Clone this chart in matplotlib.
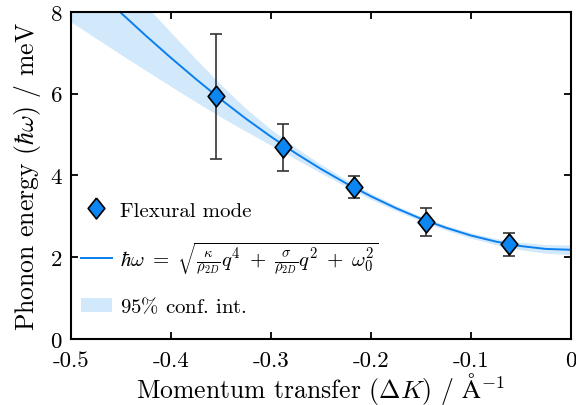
import matplotlib

matplotlib.use("Agg")
import matplotlib.pyplot as plt
from matplotlib.lines import Line2D
from matplotlib.patches import Patch

plt.rcParams["font.family"] = ["cmr10", "DejaVu Serif"]
plt.rcParams["mathtext.fontset"] = "cm"
plt.rcParams["axes.formatter.use_mathtext"] = True

# measured points (momentum transfer, energy, error bar extents)
q_meas = [-0.355, -0.288, -0.217, -0.145, -0.062]
e_meas = [5.94, 4.69, 3.72, 2.86, 2.32]
e_err_lo = [1.54, 0.58, 0.27, 0.34, 0.29]
e_err_hi = [1.52, 0.57, 0.27, 0.34, 0.27]

# fitted dispersion and its 95% band
q_fit = [-0.500, -0.475, -0.450, -0.425, -0.400, -0.375, -0.350, -0.325,
         -0.300, -0.275, -0.250, -0.225, -0.200, -0.175, -0.150, -0.125,
         -0.100, -0.075, -0.050, -0.025, 0.000]
e_fit = [9.16, 8.56, 7.98, 7.42, 6.88, 6.36, 5.86, 5.39,
         4.95, 4.54, 4.16, 3.81, 3.49, 3.20, 2.94, 2.72,
         2.53, 2.38, 2.27, 2.20, 2.18]
e_band_lo = [7.76, 7.36, 6.96, 6.57, 6.18, 5.80, 5.43, 5.08,
             4.74, 4.40, 4.06, 3.73, 3.415, 3.135, 2.88, 2.66,
             2.465, 2.305, 2.18, 2.095, 2.06]
e_band_hi = [10.10, 9.45, 8.80, 8.16, 7.50, 6.85, 6.22, 5.64,
             5.13, 4.68, 4.27, 3.90, 3.565, 3.265, 3.00, 2.78,
             2.595, 2.455, 2.36, 2.305, 2.30]

x_ticks = [-0.5, -0.4, -0.3, -0.2, -0.1, 0]
x_tick_labels = ["-0.5", "-0.4", "-0.3", "-0.2", "-0.1", "0"]
y_ticks = [0, 2, 4, 6, 8]

LINE_BLUE = "#0a7ff0"
MARKER_BLUE = "#0b86f2"
BAND_BLUE = "#d2e8fb"
BAR_GREY = "#333333"

diamond = [(0, 1), (0.8, 0), (0, -1), (-0.8, 0), (0, 1)]

fig = plt.figure(figsize=(5.76, 4.06), dpi=100)
ax = fig.add_axes([0.123, 0.163, 0.868, 0.805])

ax.fill_between(q_fit, e_band_lo, e_band_hi, color=BAND_BLUE, linewidth=0)
ax.plot(q_fit, e_fit, color=LINE_BLUE, linewidth=1.4)
ax.errorbar(
    q_meas,
    e_meas,
    yerr=[e_err_lo, e_err_hi],
    fmt="none",
    ecolor=BAR_GREY,
    elinewidth=1.2,
    capsize=4.3,
    capthick=1.2,
)
ax.plot(
    q_meas,
    e_meas,
    linestyle="none",
    marker=diamond,
    markersize=15,
    markerfacecolor=MARKER_BLUE,
    markeredgecolor="black",
    markeredgewidth=1.2,
)

ax.set_xlim(-0.5, 0)
ax.set_ylim(0, 8)
ax.set_xticks(x_ticks)
ax.set_xticklabels(x_tick_labels)
ax.set_yticks(y_ticks)
ax.tick_params(direction="in", length=5, width=1.3, top=True, right=True, labelsize=16.5)
ax.tick_params(axis="x", pad=8.5)
ax.tick_params(axis="y", pad=6)
for sp in ax.spines.values():
    sp.set_linewidth(1.5)

ax.set_xlabel(r"Momentum transfer ($\Delta K$) / $\mathrm{\AA}^{-1}$", fontsize=18.5, labelpad=0)
ax.set_ylabel(r"Phonon energy ($\hbar\omega$) / meV", fontsize=18.5, labelpad=5)

# legend handles: errorbar + diamond, fit line, band
h_meas = ax.errorbar(
    [], [], yerr=[], fmt="none", ecolor=BAR_GREY, elinewidth=1.2, capsize=4.3, capthick=1.2
)
h_mark = Line2D([], [], linestyle="none", marker=diamond, markersize=15,
                markerfacecolor=MARKER_BLUE, markeredgecolor="black", markeredgewidth=1.2)
h_line = Line2D([], [], color=LINE_BLUE, linewidth=1.4)
h_band = Patch(facecolor=BAND_BLUE, edgecolor="none")

ax.legend(
    [(h_meas, h_mark), h_line, h_band],
    [
        "Flexural mode",
        r"$\hbar\omega\;=\;\sqrt{\frac{\kappa}{\rho_{2D}}q^4\;+\;\frac{\sigma}{\rho_{2D}}q^2\;+\;\omega_0^2}$",
        r"95$\%$ conf. int.",
    ],
    loc="lower left",
    bbox_to_anchor=(-0.018, 0.012),
    frameon=False,
    fontsize=15,
    handlelength=1.5,
    handletextpad=0.4,
    labelspacing=0.95,
)

fig.savefig("out.png", dpi=100)
